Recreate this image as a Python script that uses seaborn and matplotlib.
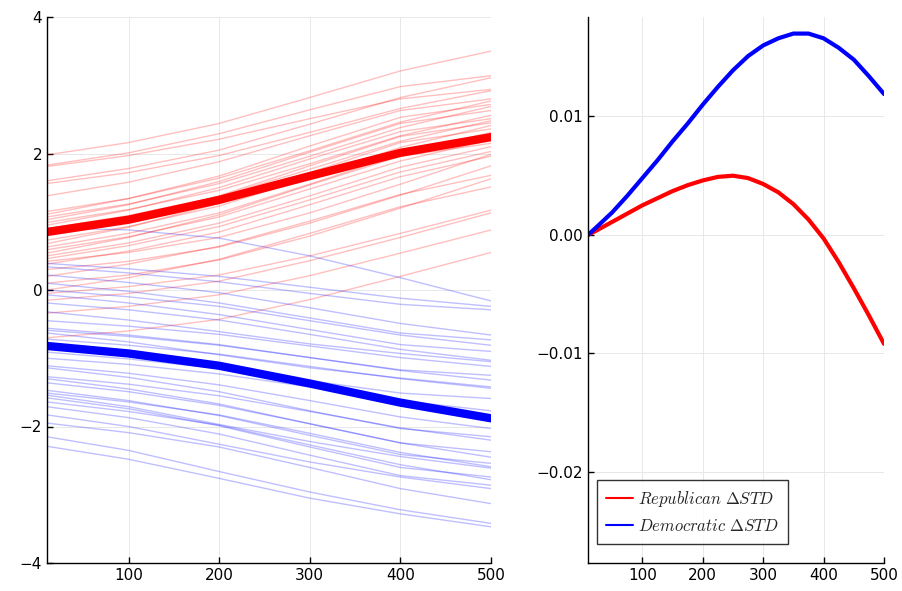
import numpy as np
import pandas as pd
import seaborn as sns
import matplotlib.pyplot as plt
from matplotlib.ticker import FuncFormatter

x_runs = [10, 100, 200, 300, 400, 500]

# Republican runs (thin red lines)
red_runs = [
    [1.98, 2.16, 2.44, 2.82, 3.21, 3.50],
    [1.83, 2.01, 2.29, 2.64, 2.98, 3.14],
    [1.60, 1.78, 2.05, 2.43, 2.82, 3.11],
    [1.81, 1.97, 2.21, 2.51, 2.80, 2.94],
    [1.56, 1.72, 1.97, 2.31, 2.66, 2.92],
    [1.38, 1.58, 1.88, 2.26, 2.63, 2.80],
    [1.15, 1.34, 1.64, 2.04, 2.46, 2.77],
    [1.11, 1.34, 1.67, 2.11, 2.53, 2.72],
    [1.07, 1.26, 1.56, 1.96, 2.38, 2.69],
    [1.03, 1.25, 1.59, 2.02, 2.44, 2.63],
    [0.99, 1.18, 1.46, 1.85, 2.26, 2.56],
    [0.95, 1.17, 1.50, 1.92, 2.32, 2.51],
    [0.90, 1.09, 1.37, 1.77, 2.18, 2.48],
    [0.80, 1.03, 1.38, 1.82, 2.25, 2.45],
    [0.73, 0.93, 1.23, 1.65, 2.09, 2.41],
    [0.68, 0.92, 1.27, 1.72, 2.16, 2.36],
    [0.63, 0.83, 1.13, 1.55, 1.99, 2.31],
    [0.59, 0.78, 1.07, 1.48, 1.89, 2.20],
    [0.54, 0.77, 1.10, 1.54, 1.96, 2.15],
    [0.50, 0.69, 0.98, 1.38, 1.80, 2.10],
    [0.46, 0.65, 0.93, 1.32, 1.73, 2.03],
    [0.42, 0.55, 0.77, 1.13, 1.55, 1.99],
    [0.38, 0.57, 0.85, 1.25, 1.66, 1.96],
    [0.30, 0.42, 0.63, 0.98, 1.39, 1.82],
    [0.20, 0.38, 0.64, 1.01, 1.40, 1.68],
    [0.10, 0.22, 0.44, 0.79, 1.20, 1.63],
    [0.00, 0.18, 0.45, 0.83, 1.22, 1.51],
    [-0.05, 0.05, 0.22, 0.50, 0.83, 1.17],
    [-0.15, -0.05, 0.13, 0.43, 0.77, 1.13],
    [-0.34, -0.24, -0.07, 0.21, 0.54, 0.88],
    [-0.70, -0.60, -0.43, -0.14, 0.20, 0.55],
]

# Democratic runs (thin blue lines)
blue_runs = [
    [0.91, 0.88, 0.76, 0.50, 0.18, -0.16],
    [0.39, 0.31, 0.20, 0.04, -0.12, -0.24],
    [0.34, 0.25, 0.12, -0.05, -0.21, -0.29],
    [0.22, 0.11, -0.04, -0.26, -0.49, -0.66],
    [0.10, -0.02, -0.19, -0.41, -0.63, -0.73],
    [0.00, -0.10, -0.24, -0.45, -0.66, -0.81],
    [-0.07, -0.19, -0.36, -0.58, -0.80, -0.90],
    [-0.19, -0.29, -0.44, -0.65, -0.87, -1.03],
    [-0.32, -0.44, -0.61, -0.79, -0.93, -1.05],
    [-0.45, -0.53, -0.65, -0.82, -0.99, -1.12],
    [-0.56, -0.66, -0.80, -0.99, -1.17, -1.25],
    [-0.59, -0.68, -0.81, -0.99, -1.18, -1.32],
    [-0.63, -0.76, -0.95, -1.14, -1.29, -1.42],
    [-0.72, -0.81, -0.94, -1.12, -1.30, -1.44],
    [-0.91, -1.01, -1.15, -1.33, -1.51, -1.59],
    [-1.00, -1.09, -1.23, -1.42, -1.62, -1.77],
    [-1.11, -1.22, -1.39, -1.62, -1.86, -2.03],
    [-1.14, -1.28, -1.49, -1.77, -2.03, -2.15],
    [-1.27, -1.38, -1.55, -1.78, -2.02, -2.20],
    [-1.30, -1.45, -1.67, -1.96, -2.24, -2.37],
    [-1.36, -1.49, -1.69, -1.96, -2.24, -2.45],
    [-1.47, -1.62, -1.84, -2.13, -2.41, -2.54],
    [-1.51, -1.64, -1.83, -2.10, -2.38, -2.59],
    [-1.54, -1.71, -1.97, -2.22, -2.44, -2.61],
    [-1.58, -1.74, -1.99, -2.30, -2.60, -2.74],
    [-1.64, -1.78, -1.98, -2.27, -2.56, -2.78],
    [-1.71, -1.87, -2.11, -2.42, -2.72, -2.86],
    [-1.83, -2.00, -2.26, -2.52, -2.74, -2.91],
    [-1.95, -2.09, -2.30, -2.60, -2.91, -3.13],
    [-2.15, -2.35, -2.66, -2.96, -3.22, -3.42],
    [-2.29, -2.48, -2.76, -3.05, -3.28, -3.47],
]

# mean paths (thick lines)
red_mean = [0.85, 1.03, 1.32, 1.67, 2.01, 2.24]
blue_mean = [-0.82, -0.93, -1.11, -1.37, -1.65, -1.88]

# change in std (right panel)
x_std = [10, 25, 50, 75, 100, 125, 150, 175, 200, 225, 250,
         275, 300, 325, 350, 375, 400, 425, 450, 475, 500]
rep_dstd = [0.0, 0.0004, 0.0011, 0.0018, 0.0025, 0.0031, 0.0037, 0.0042, 0.0046, 0.0049, 0.0050,
            0.0048, 0.0043, 0.0036, 0.0026, 0.0013, -0.0003, -0.0023, -0.0045, -0.0068, -0.0092]
dem_dstd = [0.0, 0.0007, 0.0019, 0.0033, 0.0048, 0.0063, 0.0079, 0.0094, 0.0110, 0.0125, 0.0139,
            0.0151, 0.0160, 0.0166, 0.0170, 0.0170, 0.0166, 0.0158, 0.0148, 0.0134, 0.0119]


def runs_frame(runs):
    rows = []
    for i, r in enumerate(runs):
        for xv, yv in zip(x_runs, r):
            rows.append((i, xv, yv))
    return pd.DataFrame(rows, columns=['run', 'x', 'value'])


df_red = runs_frame(red_runs)
df_blue = runs_frame(blue_runs)
df_std = pd.DataFrame({'x': x_std, 'rep': rep_dstd, 'dem': dem_dstd})

sns.set_theme(style='white')
plt.rcParams['font.family'] = ['DejaVu Sans']
plt.rcParams['mathtext.fontset'] = 'cm'

fig = plt.figure(figsize=(9.02, 5.91), dpi=100)
ax1 = fig.add_axes([47 / 902, 28 / 591, 444 / 902, 546 / 591])
ax2 = fig.add_axes([588 / 902, 28 / 591, 296 / 902, 546 / 591])

# left panel
sns.lineplot(data=df_red, x='x', y='value', units='run', estimator=None,
             color='red', alpha=0.25, lw=1.0, ax=ax1)
sns.lineplot(data=df_blue, x='x', y='value', units='run', estimator=None,
             color='blue', alpha=0.25, lw=1.0, ax=ax1)
sns.lineplot(x=x_runs, y=red_mean, color='red', lw=6, ax=ax1)
sns.lineplot(x=x_runs, y=blue_mean, color='blue', lw=6, ax=ax1)
ax1.set_xlim(10, 500)
ax1.set_ylim(-4, 4)
ax1.set_yticks([-4, -2, 0, 2, 4])

# right panel
sns.lineplot(data=df_std, x='x', y='rep', color='red', lw=3,
             label=r'$Republican\ \Delta STD$', ax=ax2)
sns.lineplot(data=df_std, x='x', y='dem', color='blue', lw=3,
             label=r'$Democratic\ \Delta STD$', ax=ax2)
ax2.set_xlim(10, 500)
ax2.set_ylim(-0.0277, 0.0184)
ax2.set_yticks([-0.02, -0.01, 0.0, 0.01])
ax2.yaxis.set_major_formatter(FuncFormatter(lambda v, p: f'{v:.2f}'.replace('-', '\u2212')))
leg = ax2.legend(loc='lower left', fontsize=12, frameon=True, fancybox=False,
                 handlelength=1.6, handletextpad=0.3, borderpad=0.55,
                 labelspacing=0.45, borderaxespad=0.0,
                 bbox_to_anchor=(0.03, 0.035))
leg.get_frame().set_edgecolor('black')
leg.get_frame().set_linewidth(1.0)
for line in leg.get_lines():
    line.set_linewidth(1.5)

for ax in (ax1, ax2):
    ax.set_xticks([100, 200, 300, 400, 500])
    ax.set_xlabel('')
    ax.set_ylabel('')
    ax.grid(True, color='#e8e8e8', lw=0.7)
    ax.set_axisbelow(True)
    for s in ('top', 'right'):
        ax.spines[s].set_visible(False)
    for s in ('left', 'bottom'):
        ax.spines[s].set_color('black')
        ax.spines[s].set_linewidth(1.0)
    ax.tick_params(direction='in', length=4, width=1, labelsize=11,
                   colors='black', left=True, bottom=True)

fig.savefig('out.png', dpi=100)
